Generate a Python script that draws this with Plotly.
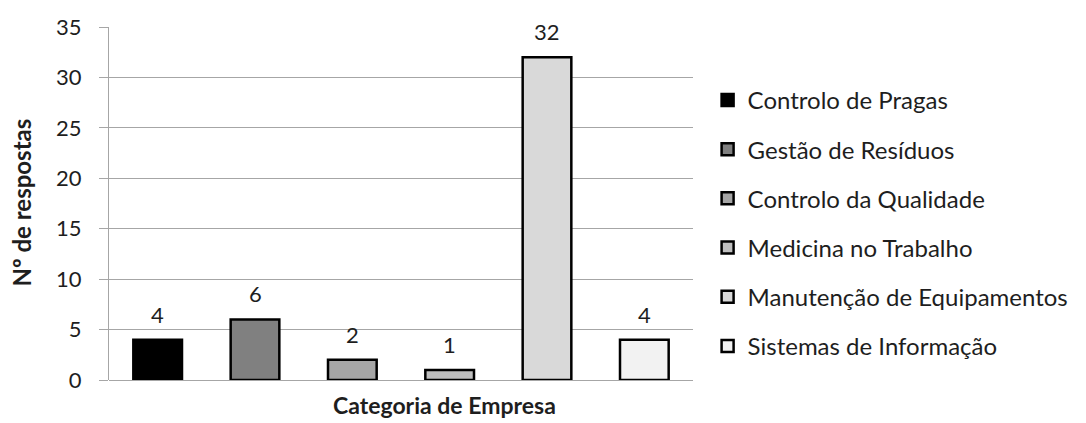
import plotly.graph_objects as go

# Survey responses by company category
categories = [
    "Controlo de Pragas",
    "Gestão de Resíduos",
    "Controlo da Qualidade",
    "Medicina no Trabalho",
    "Manutenção de Equipamentos",
    "Sistemas de Informação",
]
responses = [4, 6, 2, 1, 32, 4]
fill_colors = ["#000000", "#808080", "#a6a6a6", "#bfbfbf", "#d9d9d9", "#f2f2f2"]
y_ticks = [0, 5, 10, 15, 20, 25, 30, 35]

FONT = "Lato"
TEXT = "#1e1e1e"
GRID = "#a6a6a6"

fig = go.Figure()

for i, (name, val, col) in enumerate(zip(categories, responses, fill_colors)):
    fig.add_trace(go.Bar(
        x=[i], y=[val], name=name, width=0.5,
        marker=dict(color=col, line=dict(color="#000000", width=2.5)),
        legendgroup=name,
    ))
    fig.add_annotation(
        x=i, y=val, text=str(val), showarrow=False,
        yanchor="bottom", yshift=10,
        font=dict(family=FONT, size=22, color=TEXT),
    )

# axis titles
fig.add_annotation(
    xref="paper", yref="paper", x=0.575, y=-0.072,
    text="<b>Categoria de Empresa</b>", showarrow=False,
    xanchor="center", yanchor="middle",
    font=dict(family=FONT, size=23, color=TEXT),
)
fig.add_annotation(
    xref="paper", yref="paper", x=-0.15, y=0.504,
    text="<b>Nº de respostas</b>", showarrow=False, textangle=-90,
    xanchor="center", yanchor="middle",
    font=dict(family=FONT, size=24, color=TEXT),
)

fig.update_layout(
    width=1086, height=423,
    margin=dict(l=109, r=389, t=27, b=43),
    paper_bgcolor="white", plot_bgcolor="white",
    barmode="overlay",
    showlegend=True,
    legend=dict(
        x=1.025, xanchor="left", y=0.856, yanchor="top",
        font=dict(family=FONT, size=24, color=TEXT),
        tracegroupgap=15, bgcolor="rgba(0,0,0,0)",
    ),
    font=dict(family=FONT, color=TEXT),
)

fig.update_xaxes(
    range=[-0.5, 5.5], showticklabels=False, ticks="",
    showgrid=False, zeroline=False, showline=False,
)
fig.update_yaxes(
    range=[0, 35], tickvals=y_ticks, ticks="outside", ticklen=9,
    ticklabelstandoff=13,
    tickcolor=GRID, tickfont=dict(family=FONT, size=22, color=TEXT),
    showgrid=True, gridcolor=GRID, gridwidth=1,
    showline=True, linecolor=GRID, linewidth=1,
    zeroline=True, zerolinecolor=GRID, zerolinewidth=1,
)

fig.write_html("out.html")
